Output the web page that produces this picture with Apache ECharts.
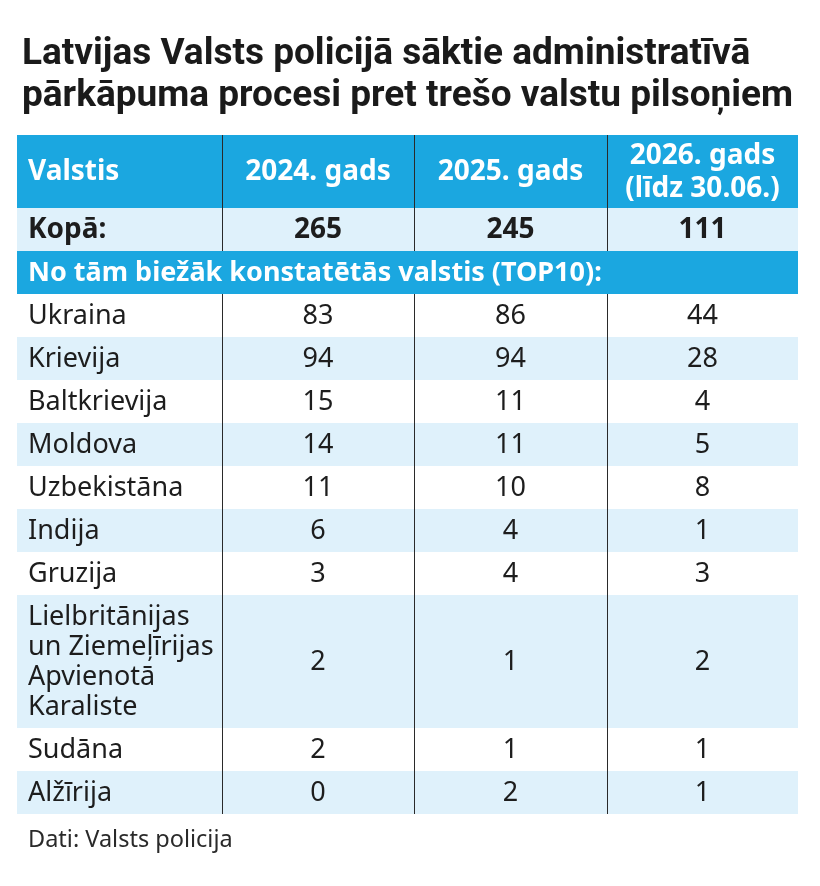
<!DOCTYPE html>
<html>
<head>
<meta charset="utf-8">
<script src="https://cdn.jsdelivr.net/npm/echarts@6/dist/echarts.min.js"></script>
<style>
  html, body { margin: 0; padding: 0; background: #fff; }
  #main { width: 820px; height: 886px; }
</style>
</head>
<body>
<div id="main"></div>
<script>
// dati
const columns = ['Valstis', '2024. gads', '2025. gads', '2026. gads\n(līdz 30.06.)'];
const totalLabel = 'Kopā:';
const totals = [265, 245, 111];
const subheading = 'No tām biežāk konstatētās valstis (TOP10):';
const countries = ['Ukraina', 'Krievija', 'Baltkrievija', 'Moldova', 'Uzbekistāna', 'Indija', 'Gruzija',
  'Lielbritānijas\nun Ziemeļīrijas\nApvienotā\nKaraliste', 'Sudāna', 'Alžīrija'];
const y2024 = [83, 94, 15, 14, 11, 6, 3, 2, 2, 0];
const y2025 = [86, 94, 11, 11, 10, 4, 4, 1, 1, 2];
const y2026 = [44, 28, 4, 5, 8, 1, 3, 2, 1, 1];
const source = 'Dati: Valsts policija';

// izkārtojums
const colW = [205, 192, 193, 191];
const LINE = 30, PAD = 13;
const BLUE = '#1ba7e0', LIGHT = '#dff1fb', INK = '#1d1d1d';
const FONT = "'Noto Sans', 'Open Sans', sans-serif";

const colEdge = [0];
colW.forEach(w => colEdge.push(colEdge[colEdge.length - 1] + w));
const tableW = colEdge[colEdge.length - 1];

// rindas
let rows = [];
rows.push({ kind: 'head', cells: columns });
rows.push({ kind: 'total', cells: [totalLabel].concat(totals.map(String)) });
rows.push({ kind: 'sub', cells: [subheading] });
countries.forEach((c, i) => {
  rows.push({ kind: 'data', cells: [c, String(y2024[i]), String(y2025[i]), String(y2026[i])], alt: i % 2 === 1 });
});

let yPos = 0;
const seriesData = rows.map(r => {
  let lines = Math.max.apply(null, r.cells.map(t => t.split('\n').length));
  let h = PAD + LINE * lines;
  let item = [yPos, yPos + h];
  yPos += h;
  return item;
});
const totalH = yPos;

const SIZE = { head: 28, total: 28, sub: 27, data: 27 };

function renderRow(params, api) {
  let r = rows[params.dataIndex];
  let y0 = api.value(0), y1 = api.value(1);
  let tl = api.coord([0, y0]);
  let br = api.coord([tableW, y1]);
  let midY = (tl[1] + br[1]) / 2;
  let bg = '#ffffff';
  if (r.kind === 'head' || r.kind === 'sub') bg = BLUE;
  else if (r.kind === 'total' || r.alt) bg = LIGHT;
  let children = [{
    type: 'rect',
    shape: { x: tl[0], y: tl[1], width: br[0] - tl[0], height: br[1] - tl[1] },
    style: { fill: bg }
  }];
  let white = r.kind === 'head' || r.kind === 'sub';
  let bold = r.kind !== 'data';
  r.cells.forEach((t, ci) => {
    let left = ci === 0;
    let x = left ? api.coord([colEdge[0], y0])[0] + 11
                 : api.coord([(colEdge[ci] + colEdge[ci + 1]) / 2, y0])[0];
    children.push({
      type: 'text',
      style: {
        text: t, x: x, y: midY + 1,
        align: left ? 'left' : 'center', verticalAlign: 'middle',
        fontFamily: FONT, fontSize: SIZE[r.kind], fontWeight: bold ? 'bold' : 'normal',
        lineHeight: r.kind === 'head' ? 33 : LINE, fill: white ? '#ffffff' : INK
      }
    });
  });
  if (r.kind !== 'sub') {
    for (let k = 1; k < colEdge.length - 1; k++) {
      let x = Math.round(api.coord([colEdge[k], y0])[0]) + 0.5;
      children.push({
        type: 'line',
        shape: { x1: x, y1: tl[1], x2: x, y2: br[1] },
        style: { stroke: '#2a2a2a', lineWidth: 1 }
      });
    }
  }
  return { type: 'group', children: children };
}

let chart = echarts.init(document.getElementById('main'));
chart.setOption({
  backgroundColor: '#ffffff',
  animation: false,
  title: {
    text: 'Latvijas Valsts policijā sāktie administratīvā\npārkāpuma procesi pret trešo valstu pilsoņiem',
    left: 17, top: 29,
    textStyle: {
      fontFamily: "Roboto, sans-serif",
      fontSize: 37, fontWeight: 'bold', lineHeight: 42, color: '#1a1a1a'
    }
  },
  grid: { left: 17, top: 135, width: tableW, height: totalH },
  xAxis: { type: 'value', min: 0, max: tableW, show: false },
  yAxis: { type: 'value', min: 0, max: totalH, inverse: true, show: false },
  series: [{
    type: 'custom',
    renderItem: renderRow,
    data: seriesData,
    encode: { y: [0, 1] },
    clip: false
  }],
  graphic: [{
    type: 'text', left: 28, top: 828,
    style: { text: source, fontFamily: FONT, fontSize: 23.5, fill: '#2a2a2a' }
  }]
});
</script>
</body>
</html>
